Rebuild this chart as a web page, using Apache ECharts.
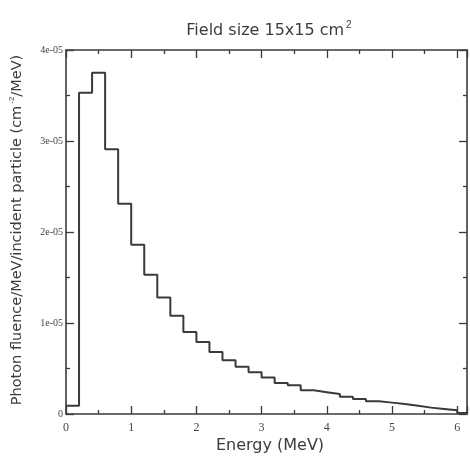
<!DOCTYPE html>
<html>
<head>
<meta charset="utf-8">
<script src="https://cdn.jsdelivr.net/npm/echarts@6/dist/echarts.min.js"></script>
<style>
  html, body { margin: 0; padding: 0; background: #fff; }
  #chart { width: 470px; height: 461px; }
</style>
</head>
<body>
<div id="chart"></div>
<script>
// Bin edges of the photon energy spectrum (MeV)
const binEdges = [0, 0.2, 0.4, 0.6, 0.8, 1.0, 1.2, 1.4, 1.6, 1.8, 2.0, 2.2, 2.4, 2.6, 2.8, 3.0,
  3.2, 3.4, 3.6, 3.8, 4.0, 4.2, 4.4, 4.6, 4.8, 5.0, 5.2, 5.4, 5.6, 5.8, 6.0, 6.2];

// Fluence per bin (cm^-2 / MeV per incident particle)
const fluence = [0.09e-5, 3.53e-5, 3.75e-5, 2.91e-5, 2.31e-5, 1.86e-5, 1.53e-5, 1.28e-5,
  1.08e-5, 0.90e-5, 0.79e-5, 0.68e-5, 0.59e-5, 0.52e-5, 0.46e-5, 0.40e-5,
  0.34e-5, 0.315e-5, 0.26e-5, 0.24e-5, 0.22e-5, 0.19e-5, 0.165e-5, 0.14e-5,
  0.125e-5, 0.11e-5, 0.09e-5, 0.07e-5, 0.055e-5, 0.04e-5, 0.012e-5];

// Tick labels
const xTickLabels = ['0', '1', '2', '3', '4', '5', '6'];
const yTickLabels = ['0', '1e-05', '2e-05', '3e-05', '4e-05'];

// Step outline: each bin's level starts at its left edge, closed at the last edge
const stepData = fluence.map((v, i) => [binEdges[i], v]);
stepData.push([binEdges[binEdges.length - 1], fluence[fluence.length - 1]]);

const ink = '#3a3a3a';
const textInk = '#3c3c3c';
function frameAxis(extra) {
  return Object.assign({
    axisLine: { show: true, onZero: false, lineStyle: { color: ink, width: 1.6 } },
    axisTick: { show: true, inside: true, length: 8, lineStyle: { color: ink, width: 1.3 } },
    minorTick: { show: true, splitNumber: 2, length: 4, lineStyle: { color: ink, width: 1.3 } },
    splitLine: { show: false }
  }, extra);
}

const chart = echarts.init(document.getElementById('chart'));
chart.setOption({
  animation: false,
  backgroundColor: '#fff',
  grid: { left: 66, top: 50, right: 1, bottom: 47, containLabel: false },
  xAxis: [
    frameAxis({
      type: 'value', position: 'bottom', min: 0, max: 6.15, interval: 1,
      axisLabel: {
        color: '#444', fontFamily: 'Liberation Serif', fontSize: 12, margin: 8,
        formatter: v => {
          const k = Math.round(v);
          return Math.abs(v - k) < 1e-6 && xTickLabels[k] !== undefined ? xTickLabels[k] : '';
        }
      }
    }),
    frameAxis({
      type: 'value', position: 'top', min: 0, max: 6.15, interval: 1,
      axisLabel: { show: false }
    })
  ],
  yAxis: [
    frameAxis({
      type: 'value', position: 'left', min: 0, max: 4e-5, interval: 1e-5,
      axisLabel: {
        color: '#444', fontFamily: 'Liberation Serif', fontSize: 10, margin: 3,
        formatter: v => {
          const k = Math.round(v / 1e-5);
          return yTickLabels[k] !== undefined ? yTickLabels[k] : '';
        }
      }
    }),
    frameAxis({
      type: 'value', position: 'right', min: 0, max: 4e-5, interval: 1e-5,
      axisLabel: { show: false }
    })
  ],
  series: [{
    type: 'line',
    step: 'end',
    data: stepData,
    showSymbol: false,
    symbol: 'none',
    clip: true,
    lineStyle: { color: ink, width: 2 }
  }],
  graphic: [
    {
      type: 'text', x: 269, y: 31,
      style: {
        text: 'Field size 15x15 cm{sup|2}',
        fill: textInk, font: '16px "DejaVu Sans", sans-serif',
        align: 'center', verticalAlign: 'middle',
        rich: { sup: { fontSize: 10, fill: textInk, padding: [0, 0, 12, 2] } }
      }
    },
    {
      type: 'text', x: 270, y: 446,
      style: {
        text: 'Energy (MeV)',
        fill: textInk, font: '16px "DejaVu Sans", sans-serif',
        align: 'center', verticalAlign: 'middle'
      }
    },
    {
      type: 'text', x: 17, y: 230, rotation: Math.PI / 2,
      style: {
        text: 'Photon fluence/MeV/incident particle (cm{sup|-2}/MeV)',
        fill: textInk, font: '14.5px "DejaVu Sans", sans-serif',
        align: 'center', verticalAlign: 'middle',
        rich: { sup: { fontSize: 8, fill: textInk, padding: [0, 0, 10, 2] } }
      }
    }
  ]
});
</script>
</body>
</html>
